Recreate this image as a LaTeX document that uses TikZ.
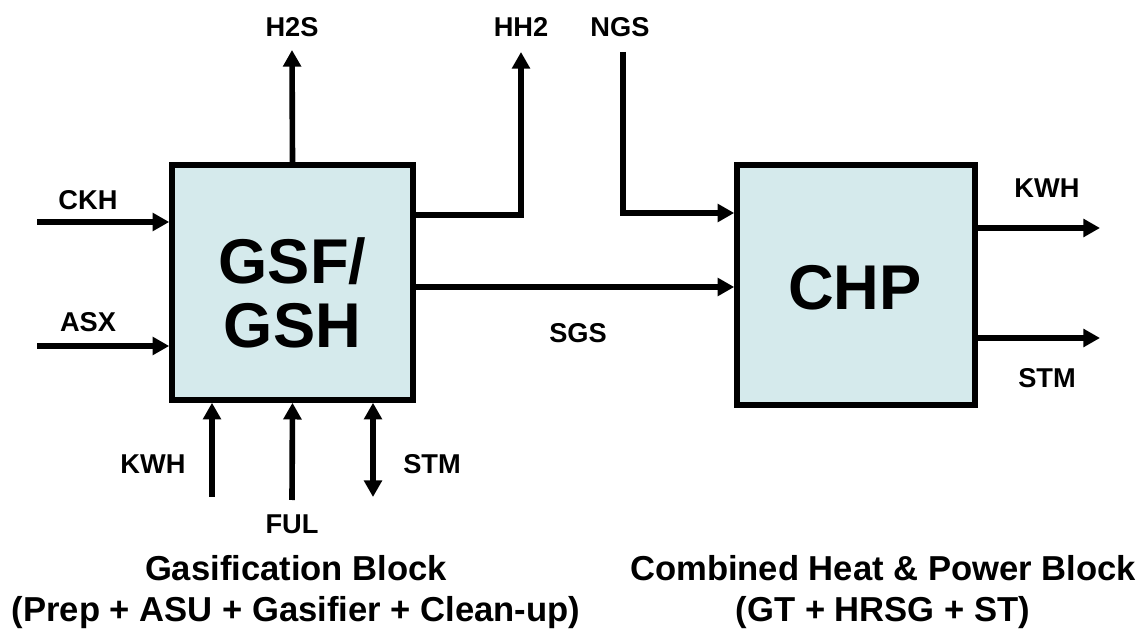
\documentclass[tikz,border=0pt]{standalone}
\usepackage{fontspec}
\setmainfont{Liberation Sans}
\usetikzlibrary{arrows.meta}
\definecolor{boxfill}{RGB}{213,234,236}

\begin{document}
\begin{tikzpicture}[x=0.02cm, y=-0.02cm]
        \useasboundingbox (0,0) rectangle (1140,631);
        \tikzset{BlockStyle/.style={draw, line width=3.2pt, fill=boxfill, inner sep=0pt}}
        \tikzset{BlockText/.style={font=\bfseries\fontsize{36}{36.5}\selectfont, align=center}}
        \tikzset{FlowStyle/.style={line width=3.2pt,
                 -{Triangle[length=9.5pt, width=10pt]}}}
        \tikzset{TagStyle/.style={font=\bfseries\fontsize{15.5}{17}\selectfont}}
        \tikzset{TitleStyle/.style={font=\bfseries\fontsize{19.7}{23}\selectfont, align=center}}
        % blocks
        \node[BlockStyle, minimum width=4.82cm, minimum height=4.7cm] (GSF) at (292.5,282.5) {};
        \node[BlockText] (GSFtxt) at (292.5,293) {GSF/\\GSH};
        \node[BlockStyle, minimum width=4.76cm, minimum height=4.8cm] (CHP) at (856,285) {};
        \node[BlockText] (CHPtxt) at (855,288) {CHP};
        % free ends
        \coordinate (CKHin) at (37,222);
        \coordinate (ASXin) at (37,346);
        \coordinate (H2Sout) at (292,50);
        \coordinate (HH2out) at (521,52);
        \coordinate (NGSin) at (623,52);
        \coordinate (KWHout) at (1100,228);
        \coordinate (STMout) at (1100,338);
        \coordinate (KWHin) at (212,497);
        \coordinate (FULin) at (292,500);
        \coordinate (STMio) at (373,497);
        % flows
        \draw[FlowStyle] (CKHin) -- (GSF.west |- CKHin);
        \draw[FlowStyle] (ASXin) -- (ASXin -| GSF.west);
        \draw[FlowStyle] (GSF.north) -- (H2Sout);
        \draw[FlowStyle] (GSF.east |- 0,215) -| (HH2out);
        \draw[FlowStyle] (NGSin) |- (CHP.west |- 0,213);
        \draw[FlowStyle] (GSF.east |- 0,287) -- (CHP.west |- 0,287);
        \draw[FlowStyle] (CHP.east |- KWHout) -- (KWHout);
        \draw[FlowStyle] (CHP.east |- STMout) -- (STMout);
        \draw[FlowStyle] (KWHin) -- (KWHin |- GSF.south);
        \draw[FlowStyle] (FULin) -- (GSF.south);
        \draw[FlowStyle, {Triangle[length=9.5pt, width=10pt]}-{Triangle[length=9.5pt, width=10pt]}] (STMio |- GSF.south) -- (STMio);
        % tags
        \node[TagStyle] (CKH) at (88,200) {CKH};
        \node[TagStyle] (ASX) at (88,322) {ASX};
        \node[TagStyle] (H2S) at (292,27) {H2S};
        \node[TagStyle] (HH2) at (521,27) {HH2};
        \node[TagStyle] (NGS) at (620,27) {NGS};
        \node[TagStyle] (SGS) at (578,333) {SGS};
        \node[TagStyle] (KWHa) at (1047,188) {KWH};
        \node[TagStyle] (STMa) at (1047,378) {STM};
        \node[TagStyle] (KWHb) at (153,464) {KWH};
        \node[TagStyle] (FUL) at (292,524) {FUL};
        \node[TagStyle] (STMb) at (432,464) {STM};
        % titles
        \node[TitleStyle] (GasTitle) at (296,592) {Gasification Block\\(Prep + ASU + Gasifier + Clean-up)};
        \node[TitleStyle] (CHPTitle) at (883,592) {Combined Heat \& Power Block\\(GT + HRSG + ST)};
    \end{tikzpicture}
\end{document}
